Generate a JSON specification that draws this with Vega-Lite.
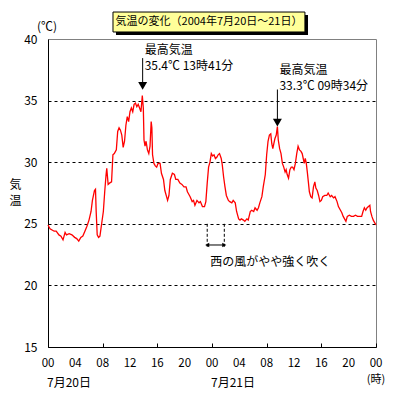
{
  "$schema": "https://vega.github.io/schema/vega-lite/v6.json",
  "width": 328,
  "height": 308,
  "autosize": {"type": "none"},
  "padding": {"left": 48, "top": 39, "right": 23, "bottom": 52},
  "background": "white",
  "config": {
    "view": {"stroke": "#808080", "strokeWidth": 1},
    "axis": {
      "labelFont": "Noto Sans CJK JP", "labelFontSize": 12, "labelColor": "black",
      "titleFont": "Noto Sans CJK JP", "titleFontSize": 12, "titleColor": "black", "titleFontWeight": "normal",
      "domainColor": "black", "tickColor": "black"
    },
    "text": {"font": "Noto Sans CJK JP", "fontSize": 12, "color": "black"}
  },
  "datasets": {
    "temps": [
      {"h":0.0,"t":24.9},{"h":0.3,"t":24.6},{"h":0.6,"t":24.5},{"h":0.9,"t":24.4},{"h":1.2,"t":24.4},{"h":1.6,"t":24.1},{"h":1.9,"t":24.0},{"h":2.2,"t":23.7},{"h":2.5,"t":24.3},{"h":2.7,"t":24.1},
      {"h":3.1,"t":24.2},{"h":3.5,"t":24.1},{"h":3.9,"t":23.9},{"h":4.2,"t":23.8},{"h":4.5,"t":23.6},{"h":4.8,"t":23.9},{"h":5.1,"t":24.0},{"h":5.4,"t":24.4},{"h":5.7,"t":24.8},{"h":6.0,"t":25.3},
      {"h":6.3,"t":26.0},{"h":6.5,"t":26.9},{"h":6.8,"t":27.7},{"h":6.95,"t":27.8},{"h":7.05,"t":26.0},{"h":7.2,"t":24.1},{"h":7.4,"t":23.9},{"h":7.6,"t":24.0},{"h":7.8,"t":24.8},{"h":8.1,"t":26.0},
      {"h":8.3,"t":27.6},{"h":8.5,"t":29.0},{"h":8.6,"t":29.5},{"h":8.8,"t":28.2},{"h":9.0,"t":28.3},{"h":9.3,"t":28.4},{"h":9.5,"t":30.6},{"h":9.7,"t":30.7},{"h":10.0,"t":31.0},{"h":10.2,"t":32.5},
      {"h":10.4,"t":32.8},{"h":10.6,"t":32.6},{"h":10.8,"t":32.2},{"h":11.0,"t":31.2},{"h":11.2,"t":31.7},{"h":11.4,"t":33.0},{"h":11.6,"t":33.7},{"h":11.8,"t":33.3},{"h":12.0,"t":34.1},{"h":12.2,"t":34.4},
      {"h":12.4,"t":34.1},{"h":12.6,"t":34.7},{"h":12.8,"t":34.8},{"h":13.0,"t":34.5},{"h":13.2,"t":34.7},{"h":13.4,"t":34.4},{"h":13.6,"t":34.1},{"h":13.8,"t":35.4},{"h":13.95,"t":34.4},{"h":14.05,"t":31.8},
      {"h":14.2,"t":31.3},{"h":14.35,"t":31.7},{"h":14.55,"t":31.0},{"h":14.75,"t":30.7},{"h":14.93,"t":31.3},{"h":15.1,"t":33.3},{"h":15.2,"t":32.8},{"h":15.3,"t":30.6},{"h":15.5,"t":29.9},{"h":15.7,"t":29.7},
      {"h":15.9,"t":29.6},{"h":16.1,"t":29.9},{"h":16.4,"t":29.9},{"h":16.6,"t":29.1},{"h":16.9,"t":28.6},{"h":17.1,"t":27.7},{"h":17.4,"t":27.1},{"h":17.5,"t":26.9},{"h":17.7,"t":27.3},{"h":17.9,"t":28.6},
      {"h":18.2,"t":29.1},{"h":18.5,"t":29.0},{"h":18.7,"t":28.6},{"h":19.0,"t":28.6},{"h":19.3,"t":28.3},{"h":19.6,"t":28.2},{"h":19.9,"t":28.0},{"h":20.2,"t":28.0},{"h":20.4,"t":27.6},{"h":20.5,"t":27.5},
      {"h":20.8,"t":27.2},{"h":21.1,"t":26.8},{"h":21.3,"t":26.9},{"h":21.5,"t":26.5},{"h":21.8,"t":26.9},{"h":22.1,"t":26.7},{"h":22.3,"t":26.8},{"h":22.6,"t":26.4},{"h":22.9,"t":26.4},{"h":23.1,"t":26.8},
      {"h":23.3,"t":28.3},{"h":23.5,"t":29.6},{"h":23.7,"t":30.0},{"h":23.9,"t":30.7},{"h":24.1,"t":30.5},{"h":24.3,"t":30.6},{"h":24.5,"t":30.3},{"h":24.7,"t":30.4},{"h":24.9,"t":30.6},{"h":25.1,"t":30.7},
      {"h":25.35,"t":30.3},{"h":25.5,"t":29.8},{"h":25.7,"t":28.8},{"h":25.9,"t":28.0},{"h":26.1,"t":27.3},{"h":26.4,"t":26.9},{"h":26.6,"t":26.8},{"h":26.9,"t":26.7},{"h":27.1,"t":26.9},{"h":27.4,"t":26.7},
      {"h":27.6,"t":26.0},{"h":27.9,"t":25.4},{"h":28.1,"t":25.3},{"h":28.3,"t":25.4},{"h":28.6,"t":25.3},{"h":28.8,"t":25.2},{"h":29.1,"t":25.4},{"h":29.3,"t":25.3},{"h":29.6,"t":26.0},{"h":29.8,"t":26.1},
      {"h":30.1,"t":26.0},{"h":30.3,"t":26.3},{"h":30.6,"t":26.1},{"h":30.8,"t":26.3},{"h":31.0,"t":26.7},{"h":31.3,"t":27.2},{"h":31.5,"t":28.0},{"h":31.8,"t":29.0},{"h":32.0,"t":30.6},{"h":32.2,"t":31.7},
      {"h":32.4,"t":32.2},{"h":32.6,"t":32.3},{"h":32.75,"t":31.5},{"h":32.9,"t":31.1},{"h":33.05,"t":31.5},{"h":33.2,"t":31.9},{"h":33.4,"t":32.2},{"h":33.57,"t":32.9},{"h":33.7,"t":31.8},{"h":33.9,"t":31.1},
      {"h":34.1,"t":30.7},{"h":34.3,"t":29.9},{"h":34.5,"t":29.6},{"h":34.7,"t":29.2},{"h":34.85,"t":29.4},{"h":35.0,"t":29.0},{"h":35.2,"t":28.7},{"h":35.4,"t":29.4},{"h":35.6,"t":29.6},{"h":35.8,"t":29.6},
      {"h":36.0,"t":29.4},{"h":36.2,"t":29.9},{"h":36.4,"t":30.7},{"h":36.6,"t":31.3},{"h":36.8,"t":31.0},{"h":37.0,"t":30.9},{"h":37.2,"t":30.7},{"h":37.35,"t":30.3},{"h":37.5,"t":29.9},{"h":37.65,"t":30.3},
      {"h":37.8,"t":29.9},{"h":37.95,"t":29.2},{"h":38.1,"t":28.4},{"h":38.25,"t":27.6},{"h":38.45,"t":27.2},{"h":38.65,"t":27.1},{"h":38.85,"t":28.0},{"h":39.05,"t":28.4},{"h":39.2,"t":27.9},{"h":39.4,"t":27.7},
      {"h":39.6,"t":27.3},{"h":39.8,"t":26.8},{"h":40.0,"t":26.9},{"h":40.2,"t":27.2},{"h":40.5,"t":27.3},{"h":40.8,"t":27.3},{"h":41.0,"t":27.5},{"h":41.3,"t":27.2},{"h":41.5,"t":27.3},{"h":41.8,"t":27.1},
      {"h":42.0,"t":27.2},{"h":42.3,"t":26.8},{"h":42.5,"t":26.4},{"h":42.8,"t":26.1},{"h":43.0,"t":25.9},{"h":43.2,"t":25.6},{"h":43.5,"t":25.3},{"h":43.6,"t":25.2},{"h":43.8,"t":25.6},{"h":44.1,"t":25.7},
      {"h":44.4,"t":25.6},{"h":44.7,"t":25.6},{"h":45.0,"t":25.7},{"h":45.3,"t":25.6},{"h":45.6,"t":25.6},{"h":45.9,"t":25.6},{"h":46.1,"t":26.0},{"h":46.3,"t":26.3},{"h":46.5,"t":26.1},{"h":46.7,"t":26.3},
      {"h":46.9,"t":26.4},{"h":47.1,"t":26.5},{"h":47.2,"t":26.0},{"h":47.4,"t":25.6},{"h":47.6,"t":25.3},{"h":47.8,"t":25.1},{"h":48.0,"t":24.9}
    ],
    "hourLabels": [
      {"hour": 0, "label": "00"}, {"hour": 4, "label": "04"}, {"hour": 8, "label": "08"}, {"hour": 12, "label": "12"},
      {"hour": 16, "label": "16"}, {"hour": 20, "label": "20"}, {"hour": 24, "label": "00"}, {"hour": 28, "label": "04"},
      {"hour": 32, "label": "08"}, {"hour": 36, "label": "12"}, {"hour": 40, "label": "16"}, {"hour": 44, "label": "20"},
      {"hour": 48, "label": "00"}
    ]
  },
  "layer": [
    {
      "data": {"name": "temps"},
      "mark": {"type": "line", "color": "#ff0000", "strokeWidth": 1.3},
      "encoding": {
        "x": {
          "field": "h", "type": "quantitative", "title": null,
          "scale": {"domain": [0, 48], "nice": false, "zero": false},
          "axis": {
            "values": [0,2,4,6,8,10,12,14,16,18,20,22,24,26,28,30,32,34,36,38,40,42,44,46,48],
            "labels": false, "tickSize": -4, "grid": false
          }
        },
        "y": {
          "field": "t", "type": "quantitative",
          "scale": {"domain": [15, 40], "nice": false, "zero": false},
          "axis": {
            "values": [15, 20, 25, 30, 35, 40],
            "ticks": false, "labelPadding": 11, "grid": true, "gridDash": [3, 3],
            "gridColor": {"condition": {"test": "datum.value == 15 || datum.value == 40", "value": "transparent"}, "value": "black"},
            "title": ["気", "温"], "titleAngle": 0, "titleX": -33, "titleY": 140,
            "titleAlign": "center", "titleBaseline": "top", "titleLineHeight": 16,
            "labelFlush": false, "labelOverlap": false
          }
        }
      }
    },
    {
      "data": {"name": "hourLabels"},
      "mark": {"type": "text", "align": "center", "baseline": "middle", "fontSize": 11.5},
      "encoding": {"x": {"field": "hour", "type": "quantitative", "title": null}, "y": {"datum": 13.62}, "text": {"field": "label"}}
    },
    {
      "data": {"values": [{"title": "気温の変化（2004年7月20日～21日）"}]},
      "layer": [
        {
          "mark": {"type": "rect", "fill": "black"},
          "encoding": {"x": {"datum": 9.95}, "x2": {"datum": 38.05}, "y": {"datum": 41.95}, "y2": {"datum": 40.33}}
        },
        {
          "mark": {"type": "rect", "fill": "#ffff99", "stroke": "black", "strokeWidth": 1},
          "encoding": {"x": {"datum": 9.51}, "x2": {"datum": 37.6}, "y": {"datum": 42.19}, "y2": {"datum": 40.57}}
        },
        {
          "mark": {"type": "text", "align": "center", "baseline": "middle", "fontSize": 11},
          "encoding": {"x": {"datum": 23.56}, "y": {"datum": 41.38}, "text": {"field": "title"}}
        }
      ]
    },
    {
      "data": {"values": [{"unit": "(℃)"}]},
      "mark": {"type": "text", "align": "center", "baseline": "middle", "fontSize": 12},
      "encoding": {"x": {"datum": -0.15}, "y": {"datum": 40.97}, "text": {"field": "unit"}}
    },
    {
      "data": {"values": [{"unit": "(時)"}]},
      "mark": {"type": "text", "align": "center", "baseline": "middle", "fontSize": 11},
      "encoding": {"x": {"datum": 48}, "y": {"datum": 12.3}, "text": {"field": "unit"}}
    },
    {
      "data": {"values": [{"date": "7月20日", "start": 0}, {"date": "7月21日", "start": 24}]},
      "mark": {"type": "text", "align": "center", "baseline": "middle", "dx": 21, "fontSize": 12},
      "encoding": {"x": {"field": "start", "type": "quantitative", "title": null}, "y": {"datum": 12.1}, "text": {"field": "date"}}
    },
    {
      "data": {"values": [{"time": 13.85, "label": ["最高気温", "35.4℃ 13時41分"]}]},
      "layer": [
        {
          "mark": {"type": "rule", "color": "black", "strokeWidth": 1},
          "encoding": {"x": {"field": "time", "type": "quantitative", "title": null}, "y": {"datum": 38.45}, "y2": {"datum": 36.3}}
        },
        {
          "mark": {"type": "point", "shape": "triangle-down", "filled": true, "color": "black", "opacity": 1, "size": 80},
          "encoding": {"x": {"field": "time", "type": "quantitative", "title": null}, "y": {"datum": 36.19}}
        },
        {
          "mark": {"type": "text", "align": "left", "baseline": "top", "dx": 2, "lineHeight": 16, "fontSize": 12},
          "encoding": {"x": {"field": "time", "type": "quantitative", "title": null}, "y": {"datum": 39.5}, "text": {"field": "label"}}
        }
      ]
    },
    {
      "data": {"values": [{"time": 33.57, "label": ["最高気温", "33.3℃ 09時34分"]}]},
      "layer": [
        {
          "mark": {"type": "rule", "color": "black", "strokeWidth": 1},
          "encoding": {"x": {"field": "time", "type": "quantitative", "title": null}, "y": {"datum": 35.9}, "y2": {"datum": 33.3}}
        },
        {
          "mark": {"type": "point", "shape": "triangle-down", "filled": true, "color": "black", "opacity": 1, "size": 80},
          "encoding": {"x": {"field": "time", "type": "quantitative", "title": null}, "y": {"datum": 33.22}}
        },
        {
          "mark": {"type": "text", "align": "left", "baseline": "top", "dx": 2, "lineHeight": 16, "fontSize": 12},
          "encoding": {"x": {"field": "time", "type": "quantitative", "title": null}, "y": {"datum": 37.85}, "text": {"field": "label"}}
        }
      ]
    },
    {
      "data": {"values": [{"from": 23.3, "to": 25.8, "note": "西の風がやや強く吹く"}]},
      "layer": [
        {
          "mark": {"type": "rule", "color": "black", "strokeDash": [3, 2]},
          "encoding": {"x": {"field": "from", "type": "quantitative", "title": null}, "y": {"datum": 25}, "y2": {"datum": 23.1}}
        },
        {
          "mark": {"type": "rule", "color": "black", "strokeDash": [3, 2]},
          "encoding": {"x": {"field": "to", "type": "quantitative", "title": null}, "y": {"datum": 25}, "y2": {"datum": 23.1}}
        },
        {
          "mark": {"type": "rule", "color": "black"},
          "encoding": {"x": {"field": "from", "type": "quantitative", "title": null}, "x2": {"field": "to"}, "y": {"datum": 23.28}}
        },
        {
          "mark": {"type": "point", "shape": "triangle-left", "filled": true, "color": "black", "opacity": 1, "size": 22, "dx": 3},
          "encoding": {"x": {"field": "from", "type": "quantitative", "title": null}, "y": {"datum": 23.28}}
        },
        {
          "mark": {"type": "point", "shape": "triangle-right", "filled": true, "color": "black", "opacity": 1, "size": 22},
          "encoding": {"x": {"field": "to", "type": "quantitative", "title": null}, "y": {"datum": 23.28}}
        },
        {
          "mark": {"type": "text", "align": "left", "baseline": "middle", "dx": 3, "fontSize": 12},
          "encoding": {"x": {"field": "from", "type": "quantitative", "title": null}, "y": {"datum": 21.9}, "text": {"field": "note"}}
        }
      ]
    }
  ]
}
